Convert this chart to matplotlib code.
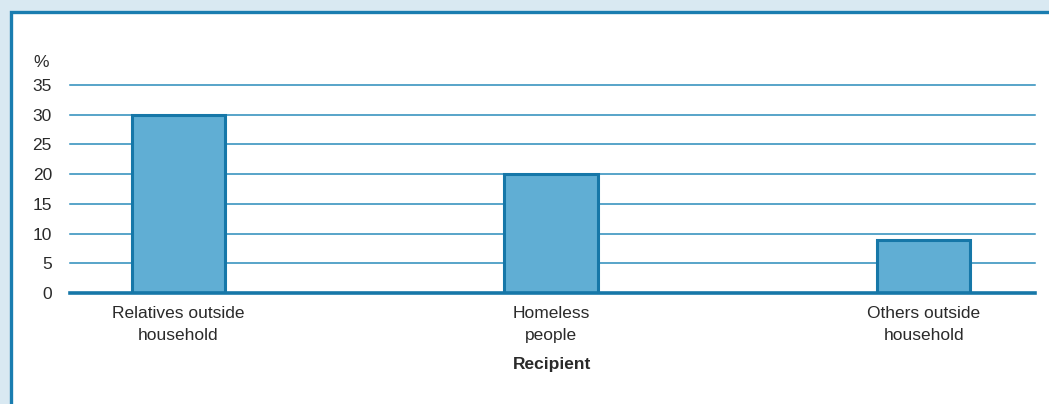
import matplotlib.pyplot as plt
from matplotlib.patches import Rectangle

# data
categories = ["Relatives outside\nhousehold", "Homeless\npeople", "Others outside\nhousehold"]
values = [30, 20, 9]
yticks = [0, 5, 10, 15, 20, 25, 30, 35]

plt.rcParams['font.family'] = ['Liberation Sans Narrow', 'Liberation Sans', 'DejaVu Sans']

bar_color = "#60aed4"
edge_color = "#1677a8"
grid_color = "#2a8bbb"
text_color = "#2a2a2a"

fig = plt.figure(figsize=(10.49, 4.04), dpi=100)
fig.patch.set_facecolor("#d9e9f2")

# white panel with blue border, drawn behind the axes
panel = Rectangle((11 / 1049, -0.05), 1.1, 1 - 11.5 / 404 + 0.05, transform=fig.transFigure,
                  facecolor="white", edgecolor="#1a7db0", linewidth=2.4, zorder=-10)
fig.patches.append(panel)

ax = fig.add_axes([70 / 1049, 1 - 293 / 404, (1035 - 70) / 1049, (293 - 85) / 404])
ax.set_facecolor("none")

x = list(range(len(categories)))
ax.bar(x, values, width=0.25, color=bar_color, edgecolor=edge_color, linewidth=2.2, zorder=3)

for t in yticks[1:]:
    ax.axhline(t, color=grid_color, linewidth=1.1, zorder=1, clip_on=False)
ax.axhline(0, color=edge_color, linewidth=2.6, zorder=4, clip_on=False)

ax.set_xlim(-0.291, 2.299)
ax.set_ylim(0, 35)
ax.set_yticks(yticks)
ax.set_xticks(x)
ax.set_xticklabels(categories, fontsize=12.5, color=text_color, linespacing=1.6)
ax.tick_params(axis="y", length=0, pad=13, labelsize=12.5, labelcolor=text_color)
ax.tick_params(axis="x", length=0, pad=9)
for s in ax.spines.values():
    s.set_visible(False)

ax.text(-0.022, 1.11, "%", transform=ax.transAxes, ha="right", va="center", fontsize=12.5, color=text_color)
ax.set_xlabel("Recipient", fontsize=12.5, fontweight="bold", color=text_color, labelpad=10)

plt.savefig("out.png", dpi=100)
